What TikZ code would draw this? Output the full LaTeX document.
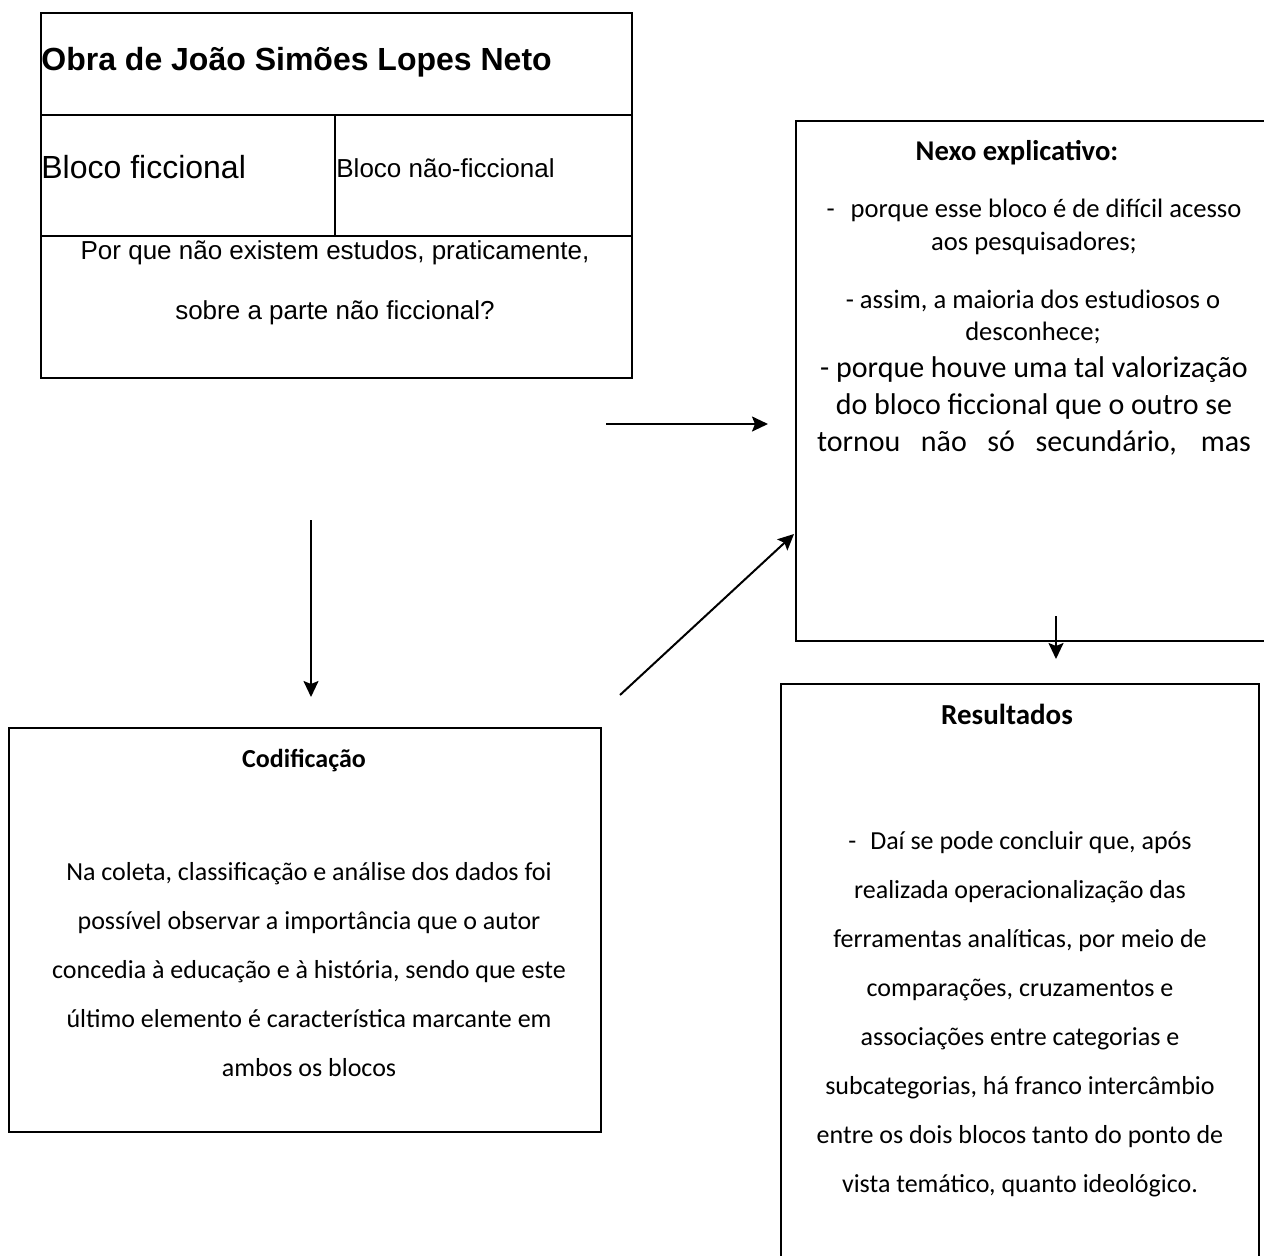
\documentclass[tikz,border=0pt]{standalone}
\usepackage{fontspec}
\setmainfont{Liberation Sans}
\newfontfamily\calibri{Carlito}
\usetikzlibrary{arrows.meta}
\begin{document}
\begin{tikzpicture}[x=0.5pt,y=-0.5pt,>={Stealth[length=8pt,width=7.5pt,inset=1.5pt]},
  box/.style={draw,line width=0.9pt,anchor=north west,inner sep=0pt},
  arr/.style={->,line width=1pt},
  cal/.style={inner sep=0pt,align=center,font=\calibri\fontsize{13}{24.5}\selectfont}]
 \useasboundingbox (0,0) rectangle (1264,1255);
 \node[box,minimum width=295.5pt,minimum height=182.5pt] (obra) at (40,12) {};
 \draw[line width=0.9pt] (40,115)--(631,115) (40,236)--(631,236) (335,115)--(335,236);
 \node[box,minimum width=240pt,minimum height=260pt] (nexo) at (795,120) {};
 \node[box,minimum width=296pt,minimum height=202pt] (codif) at (8,727) {};
 \node[box,minimum width=239pt,minimum height=300pt] (result) at (780,683) {};
 \node[anchor=west,inner sep=0pt,font=\bfseries\fontsize{16}{19}\selectfont] (titulo) at (41,62) {Obra de João Simões Lopes Neto};
 \node[anchor=west,inner sep=0pt,font=\fontsize{16}{19}\selectfont] (ficc) at (41,167) {Bloco ficcional};
 \node[anchor=west,inner sep=0pt,font=\fontsize{13}{16}\selectfont] (naoficc) at (336,168) {Bloco não-ficcional};
 \node[inner sep=0pt,align=center,font=\fontsize{13}{30}\selectfont] (pergunta) at (335,283) {Por que não existem estudos, praticamente,\\sobre a parte não ficcional?};
 \node[cal,font=\calibri\bfseries\fontsize{14.3}{17}\selectfont] (nexotit) at (1017,153) {Nexo explicativo:};
 \node[cal,font=\calibri\fontsize{13.3}{16.5}\selectfont] (nexoa) at (1034,227) {-\hspace{8pt}porque esse bloco é de difícil acesso\\aos pesquisadores;};
 \node[cal,font=\calibri\fontsize{13.3}{16}\selectfont] (nexob) at (1033,317) {- assim, a maioria dos estudiosos o\\desconhece;};
 \node[cal,font=\calibri\fontsize{15}{18.5}\selectfont] (nexoc) at (1034,406) {- porque houve uma tal valorização\\do bloco ficcional que o outro se\\\makebox[217pt][s]{tornou não só secundário, mas}};
 \node[cal,font=\calibri\bfseries\fontsize{13}{15}\selectfont] (codtit) at (304,761) {Codificação};
 \node[cal] (codtxt) at (309,970) {Na coleta, classificação e análise dos dados foi\\possível observar a importância que o autor\\concedia à educação e à história, sendo que este\\último elemento é característica marcante em\\ambos os blocos};
 \node[cal,font=\calibri\bfseries\fontsize{14.5}{17}\selectfont] (restit) at (1007,714) {Resultados};
 \node[cal] (restxt) at (1020,1014) {-\hspace{7pt}Daí se pode concluir que, após\\realizada operacionalização das\\ferramentas analíticas, por meio de\\comparações, cruzamentos e\\associações entre categorias e\\subcategorias, há franco intercâmbio\\entre os dois blocos tanto do ponto de\\vista temático, quanto ideológico.};
 \coordinate (h1) at (606,424);
 \coordinate (h2) at (768,424);
 \coordinate (v1) at (311,520);
 \coordinate (v2) at (311,697);
 \coordinate (d1) at (620,695);
 \coordinate (d2) at (794,534);
 \coordinate (r1) at (1056,616);
 \coordinate (r2) at (1056,659);
 \draw[arr] (h1)--(h2);
 \draw[arr] (v1)--(v2);
 \draw[arr] (d1)--(d2);
 \draw[arr] (r1)--(r2);
\end{tikzpicture}
\end{document}
